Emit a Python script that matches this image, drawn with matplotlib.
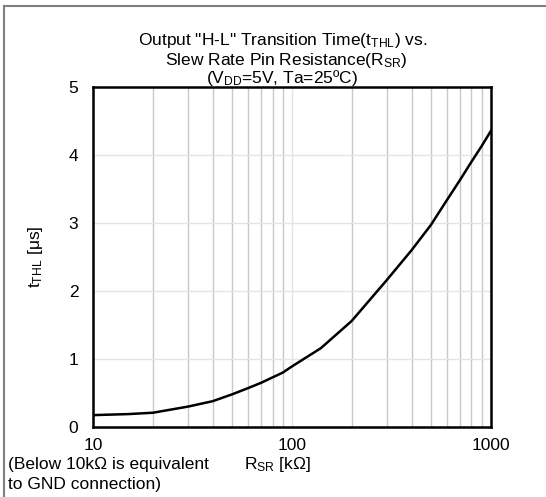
import matplotlib
matplotlib.use('Agg')
import matplotlib.pyplot as plt
from matplotlib.lines import Line2D
import numpy as np

plt.rcParams['font.family'] = ['Liberation Sans', 'DejaVu Sans']
plt.rcParams['mathtext.default'] = 'regular'

# curve
r_sr = [10, 15, 20, 30, 40, 50, 60, 70, 80, 90, 100, 140, 200, 300, 400, 500, 600, 700, 800, 900, 1000]
t_thl = [0.175, 0.19, 0.21, 0.30, 0.38, 0.48, 0.57, 0.65, 0.73, 0.80, 0.89, 1.16, 1.56, 2.16, 2.60,
         2.97, 3.33, 3.63, 3.90, 4.13, 4.35]

x_ticks = [10, 100, 1000]
y_ticks = [0, 1, 2, 3, 4, 5]

fs = 12.5

fig = plt.figure(figsize=(5.46, 4.97), dpi=100)
ax = fig.add_axes([0.1703, 0.1408, 0.7284, 0.6841])

ax.plot(r_sr, t_thl, color='black', linewidth=1.8, zorder=3)

ax.set_xscale('log')
ax.set_xlim(10, 1000)
ax.set_ylim(0, 5)
ax.set_xticks(x_ticks)
ax.set_xticklabels([str(v) for v in x_ticks])
ax.set_yticks(y_ticks)
ax.minorticks_on()
ax.yaxis.set_minor_locator(matplotlib.ticker.NullLocator())
ax.xaxis.set_minor_formatter(matplotlib.ticker.NullFormatter())
ax.tick_params(which='both', length=0, labelsize=fs)
ax.tick_params(axis='x', pad=8)
ax.tick_params(axis='y', pad=10.5)

ax.grid(which='minor', axis='x', color='#c8c8c8', linewidth=1.0)
ax.grid(which='major', axis='x', color='#e4e4e4', linewidth=1.0)
ax.grid(which='major', axis='y', color='#e4e4e4', linewidth=1.0)
for s in ax.spines.values():
    s.set_linewidth(1.8)

ax.set_ylabel('t$_{THL}$ [μs]', fontsize=fs, labelpad=17)

# bottom texts
fig.text(278 / 546, 1 - 469.5 / 497, 'R$_{SR}$ [kΩ]', fontsize=fs, ha='center', va='baseline')
fig.text(8 / 546, 1 - 469.5 / 497, '(Below 10kΩ is equivalent', fontsize=fs, ha='left', va='baseline')
fig.text(8 / 546, 1 - 489.5 / 497, 'to GND connection)', fontsize=fs, ha='left', va='baseline')

# title
fig.text(283 / 546, 1 - 45 / 497, 'Output "H-L" Transition Time(t$_{THL}$) vs.', fontsize=fs, ha='center', va='baseline')
fig.text(286 / 546, 1 - 65 / 497, 'Slew Rate Pin Resistance(R$_{SR}$)', fontsize=fs, ha='center', va='baseline')
fig.text(282 / 546, 1 - 83.5 / 497, '(V$_{DD}$=5V, Ta=25ºC)', fontsize=fs, ha='center', va='baseline')

# outer frame
fig.add_artist(Line2D([0.008, 0.008], [0, 0.988], color='#808080', linewidth=1.5))
fig.add_artist(Line2D([0.008, 1.0], [0.988, 0.988], color='#808080', linewidth=1.5))

fig.savefig('out.png', dpi=100)
